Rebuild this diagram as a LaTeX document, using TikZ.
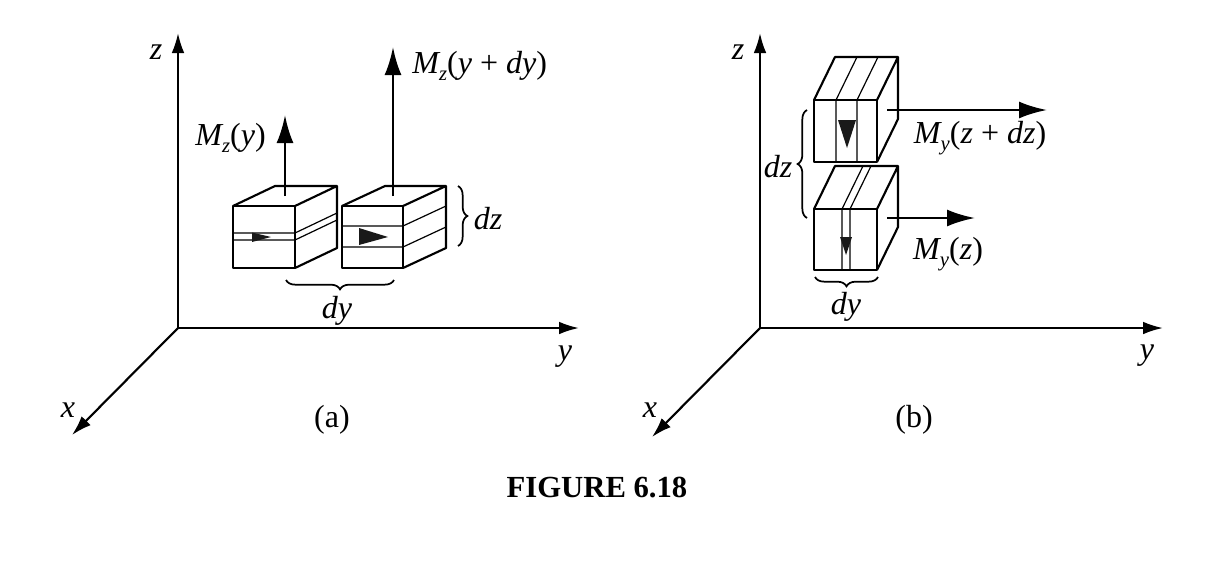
\documentclass[tikz,border=0pt]{standalone}
\usepackage{fontspec}
\setmainfont{Liberation Serif}
\usetikzlibrary{arrows.meta,decorations.pathreplacing}
\newcommand{\vv}[1]{\textit{#1}}
\newcommand{\Msub}[1]{\vv{M}\kern-.04em\raisebox{-.22em}{\fontsize{15.5}{16}\selectfont\vv{#1}}}
\tikzset{
  axisline/.style={line width=1.6pt,-{Latex[length=15pt,width=9.5pt]}},
  moment/.style={line width=2pt,-{Latex[length=21pt,width=12.75pt]}},
  boxline/.style={line width=1.6pt,line join=round},
  stripe/.style={line width=.9pt},
  wedge/.style={fill=black!90,draw=none},
  bracefig/.style={line width=1.3pt,decorate,decoration={brace,amplitude=7pt}},
  lab/.style={inner sep=0pt,font=\fontsize{24}{26}\selectfont},
}
% #1 front-left x, #2 front-top y, #3 width, #4 height, #5 dx, #6 dy
\newcommand{\cubefig}[6]{%
  \draw[boxline] (#1,#2) rectangle ++(#3,#4);
  \draw[boxline] (#1,#2) -- ++(#5,#6) -- ++(#3,0) -- ++(0,#4) -- ++(-#5,-#6)
     (#1+#3,#2) -- ++(#5,#6);
}
\begin{document}
\begin{tikzpicture}[x=.75pt,y=-.75pt]
\useasboundingbox (0,0) rectangle (1230,568);
% ---------- axes (a)
\coordinate (oa) at (178,328);
\coordinate (za) at (178,33);
\coordinate (ya) at (579,328);
\coordinate (xa) at (72,435);
\draw[axisline] (oa) -- (za);
\draw[axisline] (oa) -- (ya);
\draw[axisline] (oa) -- (xa);
\node[lab] (lza) at (156,52) {\vv{z}};
\node[lab] (lya) at (565,357) {\vv{y}};
\node[lab] (lxa) at (68,410) {\vv{x}};
\node[lab] (capa) at (332,420) {(a)};
% cubes (a)
\cubefig{233}{206}{62}{62}{42}{-20}
\draw[stripe] (233,233) -- (295,233) -- ++(42,-20);
\draw[stripe] (233,240) -- (295,240) -- ++(42,-20);
\fill[wedge] (252,232.5) -- (271,237) -- (252,242) -- cycle;
\cubefig{342}{206}{61}{62}{43}{-20}
\draw[stripe] (342,226) -- (403,226) -- ++(43,-20);
\draw[stripe] (342,247) -- (403,247) -- ++(43,-20);
\fill[wedge] (359,228) -- (388,237) -- (359,245) -- cycle;
\coordinate (m1s) at (285,196);
\coordinate (m1e) at (285,115);
\coordinate (m2s) at (393,196);
\coordinate (m2e) at (393,47);
\draw[moment] (m1s) -- (m1e);
\draw[moment] (m2s) -- (m2e);
\node[lab] (lm1) at (230.5,138) {\Msub{z}(\vv{y})};
\node[lab,anchor=west] (lm2) at (412,66) {\Msub{z}(\vv{y} + \vv{dy})};
\coordinate (b1a) at (458,186);
\coordinate (b1b) at (458,246);
\draw[bracefig] (b1a) -- (b1b);
\node[lab] (ldz1) at (488,219) {\vv{dz}};
\coordinate (b2a) at (394,280);
\coordinate (b2b) at (286,280);
\draw[bracefig] (b2a) -- (b2b);
\node[lab] (ldy1) at (337,311) {\vv{dy}};
% ---------- axes (b)
\coordinate (ob) at (760,328);
\coordinate (zb) at (760,33);
\coordinate (yb) at (1163,328);
\coordinate (xb) at (652,437);
\draw[axisline] (ob) -- (zb);
\draw[axisline] (ob) -- (yb);
\draw[axisline] (ob) -- (xb);
\node[lab] (lzb) at (738,52) {\vv{z}};
\node[lab] (lyb) at (1147,356) {\vv{y}};
\node[lab] (lxb) at (650,410) {\vv{x}};
\node[lab] (capb) at (914,420) {(b)};
% cubes (b)
\cubefig{814}{100}{63}{62}{21}{-43}
\draw[stripe] (836,162) -- (836,100) -- ++(21,-43);
\draw[stripe] (857,162) -- (857,100) -- ++(21,-43);
\fill[wedge] (838,120) -- (856,120) -- (847,148) -- cycle;
\cubefig{814}{209}{63}{61}{21}{-43}
\draw[stripe] (842,270) -- (842,209) -- ++(21,-43);
\draw[stripe] (850,270) -- (850,209) -- ++(21,-43);
\fill[wedge] (840,237) -- (852,237) -- (846,255) -- cycle;
\coordinate (m3s) at (887,110);
\coordinate (m3e) at (1047,110);
\coordinate (m4s) at (887,218);
\coordinate (m4e) at (975,218);
\draw[moment] (m3s) -- (m3e);
\draw[moment] (m4s) -- (m4e);
\node[lab] (lm3) at (980,138) {\Msub{y}(\vv{z} + \vv{dz})};
\node[lab] (lm4) at (948,254) {\Msub{y}(\vv{z})};
\coordinate (b3a) at (807,218);
\coordinate (b3b) at (807,110);
\draw[bracefig] (b3a) -- (b3b);
\node[lab] (ldz2) at (778,167) {\vv{dz}};
\coordinate (b4a) at (878,277);
\coordinate (b4b) at (815,277);
\draw[bracefig] (b4a) -- (b4b);
\node[lab] (ldy2) at (846,307) {\vv{dy}};
\node[lab,font=\fontsize{23}{25}\selectfont] (fig) at (597,488) {\textbf{FIGURE 6.18}};
\end{tikzpicture}
\end{document}
